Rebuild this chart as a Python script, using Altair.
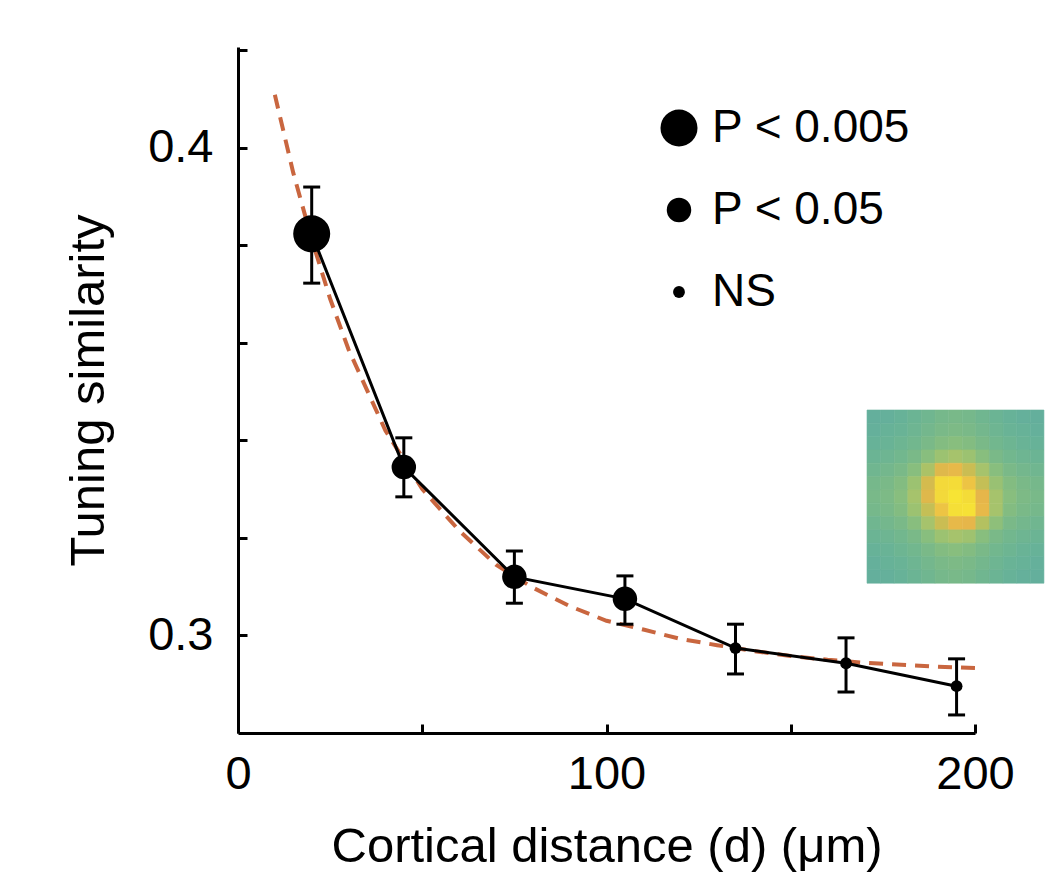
import altair as alt
import pandas as pd

# ---------------- data ----------------
distance = [20, 45, 75, 105, 135, 165, 195]
similarity = [0.3823, 0.3345, 0.3120, 0.3075, 0.2974, 0.2943, 0.2896]
err_low = [0.3722, 0.3284, 0.3066, 0.3023, 0.2921, 0.2884, 0.2837]
err_high = [0.3919, 0.3405, 0.3173, 0.3122, 0.3023, 0.2995, 0.2952]
significance = ["P < 0.005", "P < 0.05", "P < 0.05", "P < 0.05", "NS", "NS", "NS"]

fit_x = [10, 15, 20, 25, 30, 40, 50, 60, 70, 80, 90, 100, 110, 120, 130,
         140, 150, 160, 170, 180, 190, 200]
fit_y = [0.4108, 0.3948, 0.3812, 0.3690, 0.3586, 0.3420, 0.3300, 0.3215,
         0.3145, 0.3098, 0.3060, 0.3030, 0.3012, 0.2993, 0.2980, 0.2968,
         0.2958, 0.2950, 0.2944, 0.2940, 0.2936, 0.2933]

sig_levels = ["P < 0.005", "P < 0.05", "NS"]
sig_sizes = [1370, 600, 140]

# inset image (intensity grid, top row first) and its extent in data units
inset_grid = [
    [0.00, 0.02, 0.05, 0.10, 0.15, 0.20, 0.22, 0.20, 0.15, 0.10, 0.05, 0.02, 0.00],
    [0.02, 0.05, 0.08, 0.13, 0.18, 0.23, 0.25, 0.23, 0.18, 0.13, 0.08, 0.05, 0.02],
    [0.05, 0.08, 0.12, 0.17, 0.23, 0.28, 0.30, 0.28, 0.23, 0.17, 0.12, 0.08, 0.05],
    [0.10, 0.13, 0.17, 0.23, 0.30, 0.37, 0.40, 0.37, 0.30, 0.23, 0.17, 0.13, 0.10],
    [0.15, 0.18, 0.23, 0.30, 0.42, 0.58, 0.62, 0.52, 0.40, 0.30, 0.23, 0.18, 0.15],
    [0.20, 0.23, 0.28, 0.37, 0.55, 0.85, 0.88, 0.70, 0.50, 0.36, 0.28, 0.23, 0.20],
    [0.22, 0.25, 0.30, 0.40, 0.58, 0.85, 0.95, 0.88, 0.60, 0.40, 0.30, 0.25, 0.22],
    [0.20, 0.23, 0.28, 0.37, 0.50, 0.70, 0.90, 0.92, 0.62, 0.40, 0.28, 0.23, 0.20],
    [0.15, 0.18, 0.23, 0.30, 0.40, 0.52, 0.62, 0.60, 0.45, 0.32, 0.23, 0.18, 0.15],
    [0.10, 0.13, 0.17, 0.23, 0.30, 0.37, 0.40, 0.38, 0.30, 0.23, 0.17, 0.13, 0.10],
    [0.05, 0.08, 0.12, 0.17, 0.23, 0.28, 0.30, 0.28, 0.23, 0.17, 0.12, 0.08, 0.05],
    [0.02, 0.05, 0.08, 0.13, 0.18, 0.23, 0.25, 0.23, 0.18, 0.13, 0.08, 0.05, 0.02],
    [0.00, 0.02, 0.05, 0.10, 0.15, 0.20, 0.22, 0.20, 0.15, 0.10, 0.05, 0.02, 0.00],
]
inset_x = [170.7, 218.7]
inset_y = [0.3107, 0.3462]
inset_stops = [0.0, 0.25, 0.4, 0.6, 0.85, 1.0]
inset_colors = ["#64af9c", "#7dba86", "#a6c36c", "#e6b64a", "#f3d93a", "#f8ea30"]

# ---------------- tables ----------------
pts = pd.DataFrame({"d": distance, "s": similarity, "lo": err_low,
                    "hi": err_high, "sig": significance})
fit = pd.DataFrame({"d": fit_x, "s": fit_y})

n = len(inset_grid)
dx = (inset_x[1] - inset_x[0]) / n
dy = (inset_y[1] - inset_y[0]) / n
cells = []
for r, row in enumerate(inset_grid):
    for c, v in enumerate(row):
        cells.append({"x0": inset_x[0] + c * dx, "x1": inset_x[0] + (c + 1) * dx,
                      "y1": inset_y[1] - r * dy, "y0": inset_y[1] - (r + 1) * dy,
                      "v": v})
cells = pd.DataFrame(cells)

# ---------------- chart ----------------
W, H = 737, 686
FONT = "Liberation Sans"
xs = alt.Scale(domain=[0, 200], nice=False, zero=False)
ys = alt.Scale(domain=[0.28, 0.4206], nice=False, zero=False)

x_main = alt.Axis(values=[0, 100, 200], title="Cortical distance (d) (μm)",
                  labelFontSize=47, titleFontSize=49, tickSize=0, domainWidth=3,
                  domainColor="black", labelColor="black", titleColor="black",
                  labelPadding=18, titlePadding=25, grid=False, labelFont=FONT,
                  titleFont=FONT, titleFontWeight="normal", labelFlush=False,
                  labelOverlap=False)
y_main = alt.Axis(values=[0.3, 0.4], format=".1f", title="Tuning similarity",
                  labelFontSize=47, titleFontSize=49, tickSize=0, domainWidth=3,
                  domainColor="black", labelColor="black", titleColor="black",
                  labelPadding=25, titlePadding=34, grid=False, labelFont=FONT,
                  titleFont=FONT, titleFontWeight="normal", labelFlush=False,
                  labelOverlap=False)
x_ticks = alt.Axis(orient="top", offset=-H, values=[0, 50, 100, 150, 200],
                   tickSize=9, tickWidth=3, tickColor="black", labels=False,
                   domain=False, title=None, grid=False)
y_ticks = alt.Axis(orient="right", offset=-W,
                   values=[0.3, 0.32, 0.34, 0.36, 0.38, 0.4, 0.42],
                   tickSize=9, tickWidth=3, tickColor="black", labels=False,
                   domain=False, title=None, grid=False)

inset = alt.Chart(cells).mark_rect(clip=False, strokeWidth=0.6).encode(
    x=alt.X("x0:Q", scale=xs, axis=None),
    x2="x1:Q",
    y=alt.Y("y0:Q", scale=ys, axis=None),
    y2="y1:Q",
    color=alt.Color("v:Q", scale=alt.Scale(domain=inset_stops, range=inset_colors),
                    legend=None),
    stroke=alt.Stroke("v:Q", scale=alt.Scale(domain=inset_stops, range=inset_colors),
                      legend=None),
)

fit_line = alt.Chart(fit).mark_line(color="#c9663f", strokeWidth=4,
                                    strokeDash=[14, 9]).encode(
    x=alt.X("d:Q", scale=xs, axis=x_main),
    y=alt.Y("s:Q", scale=ys, axis=y_main),
)

data_line = alt.Chart(pts).mark_line(color="black", strokeWidth=3).encode(
    x=alt.X("d:Q", scale=xs, axis=x_ticks),
    y=alt.Y("s:Q", scale=ys, axis=y_ticks),
)

bars = alt.Chart(pts).mark_rule(color="black", strokeWidth=3).encode(
    x=alt.X("d:Q", scale=xs, axis=None),
    y=alt.Y("lo:Q", scale=ys, axis=None),
    y2="hi:Q",
)
cap_lo = alt.Chart(pts).mark_tick(color="black", orient="horizontal", size=17,
                                  thickness=3, opacity=1).encode(
    x=alt.X("d:Q", scale=xs, axis=None),
    y=alt.Y("lo:Q", scale=ys, axis=None),
)
cap_hi = alt.Chart(pts).mark_tick(color="black", orient="horizontal", size=17,
                                  thickness=3, opacity=1).encode(
    x=alt.X("d:Q", scale=xs, axis=None),
    y=alt.Y("hi:Q", scale=ys, axis=None),
)

points = alt.Chart(pts).mark_point(filled=True, color="black", opacity=1,
                                   shape="circle").encode(
    x=alt.X("d:Q", scale=xs, axis=None),
    y=alt.Y("s:Q", scale=ys, axis=None),
    size=alt.Size("sig:N", sort=sig_levels,
                  scale=alt.Scale(type="ordinal", domain=sig_levels, range=sig_sizes),
                  legend=alt.Legend(title=None, orient="none", legendX=418,
                                    legendY=58, labelFontSize=46, labelFont=FONT,
                                    labelColor="black", symbolFillColor="black",
                                    symbolStrokeWidth=0, symbolOpacity=1,
                                    symbolType="circle", rowPadding=36,
                                    labelOffset=10, padding=0, labelLimit=400)),
)

chart = alt.layer(inset, fit_line, data_line, bars, cap_lo, cap_hi, points).resolve_axis(
    x="independent", y="independent"
).properties(
    width=W, height=H,
    autosize=alt.AutoSizeParams(type="none"),
    padding={"left": 238, "top": 47, "right": 82, "bottom": 155},
    background="white",
).configure_view(stroke=None)

chart.save("out.html", embed_options={"renderer": "svg", "actions": False})
